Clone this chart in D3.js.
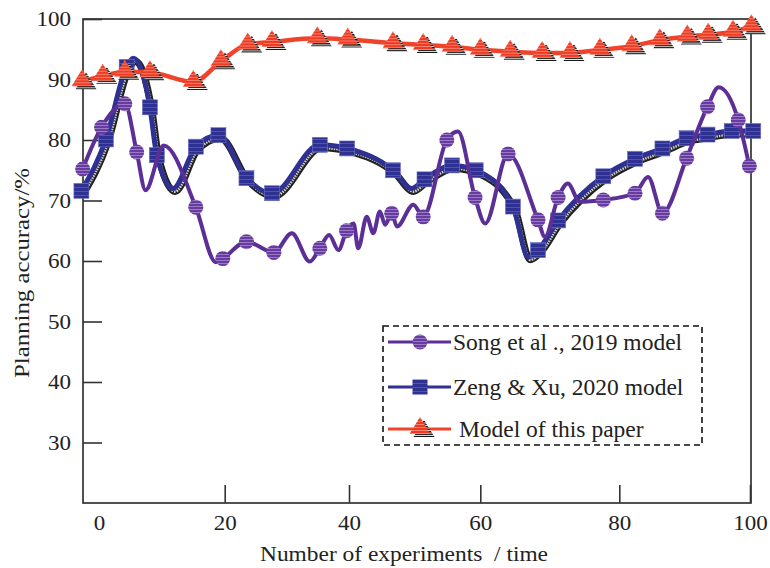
<!DOCTYPE html>
<html>
<head>
<meta charset="utf-8">
<script src="https://cdn.jsdelivr.net/npm/d3@7"></script>
<style>
  body { margin: 0; background: #fff; }
  text { font-family: "Liberation Serif", "Times New Roman", serif; fill: #222; }
</style>
</head>
<body>
<div id="chart"></div>
<script>
// x ticks and y ticks
var xTicks = [0, 20, 40, 60, 80, 100];
var yTicks = [30, 40, 50, 60, 70, 80, 90, 100];

// Song et al., 2019 - markers and extra bends of its curve
var songMarkX = [-2.6, 0.4, 4.1, 6.0, 15.4, 19.7, 23.5, 27.9, 35.3, 39.6, 46.5, 51.3, 54.9, 59.2, 64.0, 68.3, 71.2, 77.7, 82.4, 86.6, 90.3, 93.5, 98.2, 99.9];
var songMarkY = [75.2, 82.1, 86.0, 78.0, 68.9, 60.4, 63.2, 61.4, 62.1, 65.0, 67.9, 67.3, 80.0, 70.5, 77.7, 66.8, 70.5, 70.1, 71.2, 67.9, 77.0, 85.5, 83.3, 75.7];
var songBendX = [7.4, 10.3, 18.6, 30.8, 33.7, 36.8, 38.3, 40.7, 41.4, 42.7, 43.7, 44.7, 45.5, 47.3, 49.8, 56.6, 60.7, 69.3, 72.6, 74.3, 84.4, 95.2];
var songBendY = [71.7, 79.1, 59.8, 64.6, 59.9, 64.3, 61.8, 66.2, 62.1, 67.3, 64.6, 68.2, 66.0, 65.7, 69.3, 81.4, 66.2, 64.0, 72.8, 69.8, 73.9, 88.7];

// Zeng & Xu, 2020
var zengMarkX = [-2.8, 1.1, 4.4, 8.1, 9.2, 15.4, 19.0, 23.5, 27.6, 35.3, 39.7, 46.7, 51.5, 55.7, 59.3, 64.7, 68.3, 71.2, 77.7, 82.4, 86.6, 90.3, 93.5, 97.2, 100.5];
var zengMarkY = [71.6, 80.1, 92.1, 85.4, 77.5, 78.9, 80.8, 73.7, 71.2, 79.2, 78.6, 75.0, 73.5, 75.8, 75.0, 69.0, 61.8, 66.7, 74.0, 76.9, 78.6, 80.3, 80.9, 81.5, 81.5];
var zengBendX = [5.5, 11.8, 49.5, 66.9];
var zengBendY = [93.5, 72.0, 72.0, 60.7];

// Model of this paper
var oursX = [-2.7, 0.6, 4.1, 8.1, 15.0, 19.4, 23.7, 27.6, 34.9, 39.8, 46.7, 51.3, 55.7, 60.0, 64.3, 68.9, 72.9, 77.2, 81.9, 86.2, 90.4, 93.6, 97.4, 100.2];
var oursY = [89.7, 90.6, 91.3, 91.2, 89.6, 93.0, 95.8, 96.2, 96.8, 96.6, 96.0, 95.7, 95.4, 94.9, 94.6, 94.4, 94.4, 94.9, 95.5, 96.5, 97.1, 97.4, 97.9, 98.8];

var legendNames = ["Song et al ., 2019 model", "Zeng & Xu, 2020 model", " Model of this paper"];

var W = 770, H = 568;
var plotL = 83, plotR = 751, plotT = 19, plotB = 503;

var svg = d3.select("#chart").append("svg")
    .attr("width", W).attr("height", H);

var defs = svg.append("defs");
function stripes(id, bg, fg, h, sw) {
    var p = defs.append("pattern").attr("id", id)
        .attr("patternUnits", "userSpaceOnUse")
        .attr("width", 6).attr("height", h);
    p.append("rect").attr("width", 6).attr("height", h).attr("fill", bg);
    p.append("line").attr("x1", 0).attr("x2", 6).attr("y1", h - 0.5).attr("y2", h - 0.5)
        .attr("stroke", fg).attr("stroke-width", sw);
}
stripes("pStripe", "#673b9f", "#a58bcb", 3, 0.8);
stripes("rStripe", "#ee3a22", "#f7a090", 3, 0.7);
stripes("kStripe", "#111", "#fff", 2.5, 0.9);
stripes("bStripe", "#2e3192", "#6a6cb8", 4, 0.6);

// the frame has uneven spacing between ticks, so the x scale is piecewise
var x = d3.scaleLinear()
    .domain(xTicks)
    .range([99, 224.7, 349, 480.3, 619.3, 750]);

var y = d3.scaleLinear()
    .domain([20, 100])
    .range([plotB, plotT]);

var yAxis = d3.axisLeft(y)
    .tickValues(yTicks)
    .tickSize(-19)
    .tickPadding(12);

var xAxis = d3.axisBottom(x)
    .tickValues(xTicks)
    .tickSize(-18)
    .tickPadding(12);

var gy = svg.append("g").attr("transform", "translate(" + plotL + ",0)").call(yAxis);
var gx = svg.append("g").attr("transform", "translate(0," + plotB + ")").call(xAxis);
[gx, gy].forEach(function(g){
    g.select(".domain").remove();
    g.selectAll(".tick line").attr("stroke", "#333").attr("stroke-width", 1.6);
    g.selectAll(".tick text")
        .attr("font-size", 21)
        .attr("fill", "#222")
        .attr("textLength", function(d){ return String(d).length * 11.5; })
        .attr("lengthAdjust", "spacingAndGlyphs");
});
gx.selectAll(".tick").filter(function(d){ return d === 0; }).select("line").remove();

svg.append("rect")
    .attr("x", plotL).attr("y", plotT)
    .attr("width", plotR - plotL).attr("height", plotB - plotT)
    .attr("fill", "none").attr("stroke", "#333").attr("stroke-width", 1.7);

svg.append("text")
    .attr("x", 404).attr("y", 561)
    .attr("text-anchor", "middle")
    .attr("font-size", 21)
    .attr("textLength", 288).attr("lengthAdjust", "spacingAndGlyphs")
    .style("white-space", "pre")
    .text("Number of experiments  / time");

svg.append("text")
    .attr("transform", "translate(29,273) rotate(-90)")
    .attr("text-anchor", "middle")
    .attr("font-size", 21)
    .attr("textLength", 210).attr("lengthAdjust", "spacingAndGlyphs")
    .text("Planning accuracy/%");

function pts(xs, ys) {
    return xs.map(function(v, i){ return [v, ys[i]]; });
}
function merged(a, b) {
    return a.concat(b).sort(function(p, q){ return p[0] - q[0]; });
}

var line = d3.line()
    .x(function(d){ return x(d[0]); })
    .y(function(d){ return y(d[1]); })
    .curve(d3.curveMonotoneX);

var songMarks = pts(songMarkX, songMarkY);
var zengMarks = pts(zengMarkX, zengMarkY);
var oursPts = pts(oursX, oursY);
var songCurve = merged(songMarks, pts(songBendX, songBendY));
var zengCurve = merged(zengMarks, pts(zengBendX, zengBendY));

var triPath = "M0,-11L10.5,6L-10.5,6Z";

// Zeng & Xu line with its hatched shadow
var zs = svg.append("g").attr("transform", "translate(2,3)");
zs.append("path").attr("d", line(zengCurve))
    .attr("fill", "none").attr("stroke", "#222").attr("stroke-width", 7);
zs.append("path").attr("d", line(zengCurve))
    .attr("fill", "none").attr("stroke", "#cfcfcf").attr("stroke-width", 3)
    .attr("stroke-dasharray", "1.5,1");
svg.append("path").attr("d", line(zengCurve))
    .attr("fill", "none").attr("stroke", "#2e3192").attr("stroke-width", 5);
svg.selectAll("rect.zeng").data(zengMarks).enter().append("rect")
    .attr("class", "zeng")
    .attr("x", function(d){ return x(d[0]) - 7.5; })
    .attr("y", function(d){ return y(d[1]) - 7.5; })
    .attr("width", 15).attr("height", 15)
    .attr("fill", "url(#bStripe)")
    .attr("stroke", "#6d70c0").attr("stroke-width", 0.6);

// Song et al. line
svg.append("path").attr("d", line(songCurve))
    .attr("fill", "none").attr("stroke", "#5c2f96").attr("stroke-width", 4);
svg.selectAll("circle.song").data(songMarks).enter().append("circle")
    .attr("class", "song")
    .attr("cx", function(d){ return x(d[0]); })
    .attr("cy", function(d){ return y(d[1]); })
    .attr("r", 7.5)
    .attr("fill", "url(#pStripe)");

// this paper's model
svg.append("path").attr("d", line(oursPts))
    .attr("fill", "none").attr("stroke", "#f0432a").attr("stroke-width", 4.5);
var tri = svg.selectAll("g.ours").data(oursPts).enter().append("g")
    .attr("class", "ours")
    .attr("transform", function(d){ return "translate(" + x(d[0]) + "," + (y(d[1]) - 1) + ")"; });
tri.append("path").attr("d", triPath).attr("transform", "translate(4,3)")
    .attr("fill", "url(#kStripe)");
tri.append("path").attr("d", triPath).attr("fill", "url(#rStripe)");

// legend
var lg = svg.append("g");
lg.append("rect")
    .attr("x", 383).attr("y", 326).attr("width", 319).attr("height", 119)
    .attr("fill", "#fff").attr("stroke", "#111").attr("stroke-width", 1.6)
    .attr("stroke-dasharray", "6,4");
var rowY = [342, 387, 429];
var rowCol = ["#5c2f96", "#2e3192", "#f0432a"];
rowY.forEach(function(ry, i){
    lg.append("line").attr("x1", 388).attr("x2", 451).attr("y1", ry).attr("y2", ry)
        .attr("stroke", rowCol[i]).attr("stroke-width", 3);
    lg.append("text")
        .attr("x", 453).attr("y", ry + 8)
        .attr("font-size", 23.5)
        .style("white-space", "pre")
        .text(legendNames[i]);
});
lg.append("circle").attr("cx", 420).attr("cy", rowY[0]).attr("r", 7.5).attr("fill", "url(#pStripe)");
lg.append("rect").attr("x", 412.5).attr("y", rowY[1] - 7.5).attr("width", 15).attr("height", 15)
    .attr("fill", "url(#bStripe)");
lg.append("path").attr("d", triPath).attr("transform", "translate(424," + (rowY[2] + 2) + ")")
    .attr("fill", "url(#kStripe)");
lg.append("path").attr("d", triPath).attr("transform", "translate(420," + (rowY[2] - 1) + ")")
    .attr("fill", "url(#rStripe)");
</script>
</body>
</html>
